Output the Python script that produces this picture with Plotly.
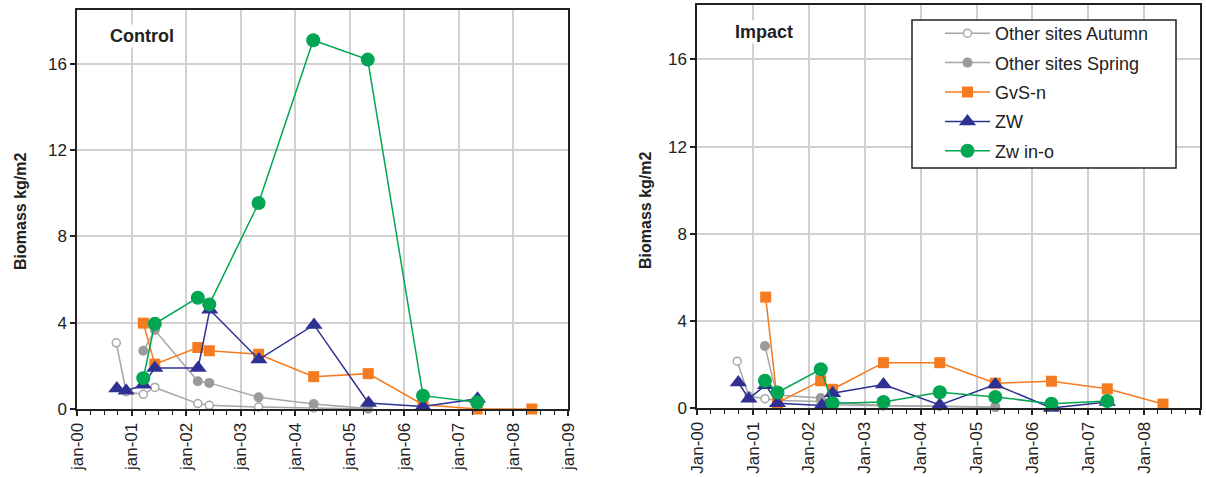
import plotly.graph_objects as go

W, H = 1206, 477

# ---------------- data ----------------
series_names = ["Other sites Autumn", "Other sites Spring", "GvS-n", "ZW", "Zw in-o"]

# Control panel
ctrl_autumn_x = ["2000-09-20", "2000-11-25", "2001-03-20", "2001-06-05", "2002-03-20", "2002-06-05",
                 "2003-05-01", "2004-05-04", "2005-05-04"]
ctrl_autumn_y = [3.07, 0.80, 0.68, 1.00, 0.25, 0.17, 0.09, 0.05, 0.0]

ctrl_spring_x = ["2001-03-20", "2001-06-05", "2002-03-20", "2002-06-05", "2003-05-01", "2004-05-04", "2005-05-04"]
ctrl_spring_y = [2.70, 3.66, 1.29, 1.21, 0.54, 0.23, 0.02]

ctrl_gvs_x = ["2001-03-20", "2001-06-05", "2002-03-20", "2002-06-05", "2003-05-01", "2004-05-04",
              "2005-05-04", "2006-05-06", "2007-05-04", "2008-05-04"]
ctrl_gvs_y = [3.98, 2.08, 2.85, 2.70, 2.54, 1.50, 1.64, 0.20, 0.0, 0.0]

ctrl_zw_x = ["2000-09-24", "2000-11-25", "2001-03-20", "2001-06-05", "2002-03-22", "2002-06-08",
             "2003-05-03", "2004-05-06", "2005-05-06", "2006-05-06", "2007-05-06"]
ctrl_zw_y = [0.95, 0.85, 1.12, 1.90, 1.90, 4.60, 2.30, 3.90, 0.28, 0.12, 0.48]

ctrl_zwin_x = ["2001-03-20", "2001-06-05", "2002-03-20", "2002-06-05", "2003-05-01", "2004-05-01",
               "2005-05-01", "2006-05-06", "2007-05-04"]
ctrl_zwin_y = [1.43, 3.95, 5.16, 4.85, 9.55, 17.10, 16.20, 0.62, 0.31]

# Impact panel
imp_autumn_x = ["2000-09-20", "2000-12-05", "2001-03-20", "2001-06-05", "2002-03-20", "2002-06-05",
                "2003-05-01", "2004-05-04", "2005-05-04"]
imp_autumn_y = [2.15, 0.55, 0.43, 0.35, 0.30, 0.15, 0.10, 0.08, 0.02]

imp_spring_x = ["2001-03-20", "2001-06-05", "2002-03-20", "2002-06-05", "2003-05-01", "2004-05-04", "2005-05-04"]
imp_spring_y = [2.85, 0.60, 0.46, 0.25, 0.12, 0.10, 0.05]

imp_gvs_x = ["2001-03-25", "2001-06-10", "2002-03-20", "2002-06-05", "2003-05-04", "2004-05-06",
             "2005-05-04", "2006-05-06", "2007-05-06", "2008-05-04"]
imp_gvs_y = [5.09, 0.25, 1.25, 0.86, 2.08, 2.08, 1.14, 1.23, 0.88, 0.18]

imp_zw_x = ["2000-09-27", "2000-12-05", "2001-03-25", "2001-06-10", "2002-03-27", "2002-06-05",
            "2003-05-04", "2004-05-06", "2005-05-04", "2006-05-06", "2007-05-06"]
imp_zw_y = [1.17, 0.43, 1.05, 0.22, 0.12, 0.68, 1.08, 0.14, 1.08, 0.0, 0.28]

imp_zwin_x = ["2001-03-20", "2001-06-10", "2002-03-20", "2002-06-05", "2003-05-04", "2004-05-06",
              "2005-05-04", "2006-05-06", "2007-05-06"]
imp_zwin_y = [1.25, 0.71, 1.78, 0.22, 0.28, 0.72, 0.51, 0.20, 0.32]

tick_dates = ["2000-01-01", "2001-01-01", "2002-01-01", "2003-01-01", "2004-01-01",
              "2005-01-01", "2006-01-01", "2007-01-01", "2008-01-01", "2009-01-01"]
ctrl_ticktext = ["jan-00", "jan-01", "jan-02", "jan-03", "jan-04", "jan-05", "jan-06", "jan-07", "jan-08", "jan-09"]
imp_ticktext = ["Jan-00", "Jan-01", "Jan-02", "Jan-03", "Jan-04", "Jan-05", "Jan-06", "Jan-07", "Jan-08", "Jan-09"]
y_ticks = [0, 4, 8, 12, 16]

# ---------------- styles ----------------
GRAY_L = "#A6A6A6"
GRAY_F = "#9A9A9A"
ORANGE = "#F47B20"
BLUE = "#2E3192"
GREEN = "#00A651"
FONT = "Liberation Sans, Arial, sans-serif"

styles = [
    dict(line=dict(color=GRAY_L, width=1.5),
         marker=dict(symbol="circle", size=8, color="white", line=dict(color=GRAY_L, width=1.5))),
    dict(line=dict(color=GRAY_L, width=1.5),
         marker=dict(symbol="circle", size=10, color=GRAY_F, line=dict(width=0))),
    dict(line=dict(color=ORANGE, width=1.5),
         marker=dict(symbol="square", size=11, color=ORANGE, line=dict(width=0))),
    dict(line=dict(color=BLUE, width=1.5),
         marker=dict(symbol="triangle-up", size=15, color=BLUE, line=dict(width=0))),
    dict(line=dict(color=GREEN, width=1.5),
         marker=dict(symbol="circle", size=14, color=GREEN, line=dict(width=0))),
]

fig = go.Figure()

ctrl_data = [(ctrl_autumn_x, ctrl_autumn_y), (ctrl_spring_x, ctrl_spring_y), (ctrl_gvs_x, ctrl_gvs_y),
             (ctrl_zw_x, ctrl_zw_y), (ctrl_zwin_x, ctrl_zwin_y)]
imp_data = [(imp_autumn_x, imp_autumn_y), (imp_spring_x, imp_spring_y), (imp_gvs_x, imp_gvs_y),
            (imp_zw_x, imp_zw_y), (imp_zwin_x, imp_zwin_y)]

for i, (name, (x, y)) in enumerate(zip(series_names, ctrl_data)):
    fig.add_trace(go.Scatter(x=x, y=y, mode="lines+markers", name=name, legendgroup=name,
                             showlegend=False, xaxis="x", yaxis="y", cliponaxis=False, **styles[i]))
for i, (name, (x, y)) in enumerate(zip(series_names, imp_data)):
    fig.add_trace(go.Scatter(x=x, y=y, mode="lines+markers", name=name, legendgroup=name,
                             showlegend=True, xaxis="x2", yaxis="y2", cliponaxis=False, **styles[i]))


def xaxis(domain, texts, anchor):
    return dict(domain=domain, anchor=anchor, type="date", range=["2000-01-01", "2009-01-01"],
                tickmode="array", tickvals=tick_dates, ticktext=texts, tickangle=-90,
                ticks="outside", ticklen=5, tickwidth=1.5, tickcolor="#222",
                tickfont=dict(family=FONT, size=17, color="#222"),
                showgrid=True, gridcolor="#D0D0D0", gridwidth=1.5,
                showline=True, linecolor="#222", linewidth=2, mirror=True,
                minor=dict(dtick="M3", tick0="2000-01-01", ticks="outside", ticklen=4,
                           tickwidth=1.2, tickcolor="#222", showgrid=False),
                zeroline=False, automargin=False, fixedrange=True)


def yaxis(domain, anchor):
    return dict(domain=domain, anchor=anchor, range=[0, 18.5], tickmode="array", tickvals=y_ticks,
                ticks="outside", ticklen=5, tickwidth=1.5, tickcolor="#222",
                tickfont=dict(family=FONT, size=17, color="#222"),
                showgrid=True, gridcolor="#D0D0D0", gridwidth=1.5,
                showline=True, linecolor="#222", linewidth=1.5, mirror=True,
                zeroline=False, automargin=False, fixedrange=True)


fig.update_layout(
    width=W, height=H,
    margin=dict(l=0, r=0, t=0, b=0),
    paper_bgcolor="white", plot_bgcolor="white",
    template="none",
    font=dict(family=FONT, color="#222"),
    xaxis=xaxis([77 / W, 568 / W], ctrl_ticktext, "y"),
    yaxis=yaxis([(H - 409) / H, (H - 10) / H], "x"),
    xaxis2=xaxis([697 / W, 1200 / W], imp_ticktext, "y2"),
    yaxis2=yaxis([(H - 408) / H, (H - 5) / H], "x2"),
    showlegend=True,
    legend=dict(x=940 / W, y=1 - 15 / H, xanchor="left", yanchor="top",
                bgcolor="rgba(0,0,0,0)", borderwidth=0,
                font=dict(family=FONT, size=18, color="#222"),
                itemwidth=45, tracegroupgap=3, traceorder="grouped"),
    shapes=[dict(type="rect", xref="paper", yref="paper",
                 x0=912 / W, x1=1176 / W, y0=1 - 168 / H, y1=1 - 20 / H,
                 fillcolor="white", line=dict(color="#222", width=1.5), layer="above")],
    annotations=[
        dict(text="<b>Control</b>", x=142 / W, y=1 - 36 / H, xref="paper", yref="paper",
             xanchor="center", yanchor="middle",
             showarrow=False, font=dict(family=FONT, size=18, color="#222"), bgcolor="white"),
        dict(text="<b>Impact</b>", x=764 / W, y=1 - 32 / H, xref="paper", yref="paper",
             xanchor="center", yanchor="middle",
             showarrow=False, font=dict(family=FONT, size=18, color="#222"), bgcolor="white"),
        dict(text="<b>Biomass kg/m2</b>", x=20 / W, y=1 - 212 / H, xref="paper", yref="paper",
             xanchor="center", yanchor="middle",
             showarrow=False, textangle=-90, font=dict(family=FONT, size=16, color="#222")),
        dict(text="<b>Biomass kg/m2</b>", x=645 / W, y=1 - 210 / H, xref="paper", yref="paper",
             xanchor="center", yanchor="middle",
             showarrow=False, textangle=-90, font=dict(family=FONT, size=16, color="#222")),
    ],
)

fig.write_html("out.html", config={"displayModeBar": False},
               post_script="document.body.style.margin='0';")
